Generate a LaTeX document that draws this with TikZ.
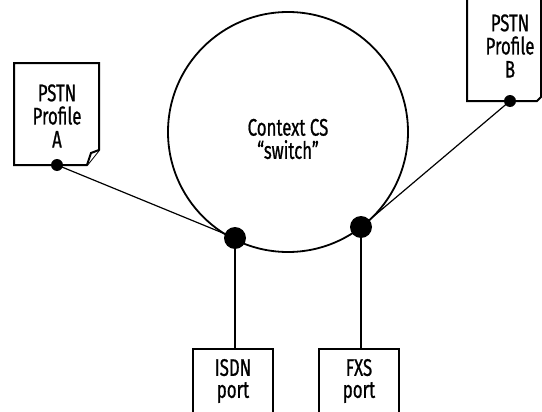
\documentclass[tikz,border=0pt]{standalone}
\usepackage{fontspec}
\setmainfont{Fira Sans}[FakeStretch=0.7, FakeBold=0.8]
\usepackage{tikz}
\usetikzlibrary{positioning, calc}
\definecolor{inkline}{HTML}{000000}
\definecolor{pagefill}{HTML}{FFFFFF}
\tikzset{
  pageline/.style = {draw=inkline, line width=1pt, fill=pagefill, line join=miter},
  lbl/.style      = {align=center, font=\fontsize{12}{11.6}\selectfont, inner sep=0pt},
  portbox/.style  = {rectangle, draw=inkline, line width=1pt, fill=pagefill,
                     minimum width=40pt, minimum height=32pt, align=center,
                     font=\fontsize{12}{11}\selectfont, inner sep=0pt},
  switchring/.style={circle, draw=inkline, line width=0.9pt, minimum size=120pt,
                     inner sep=0pt},
  joint/.style    = {circle, fill=inkline, inner sep=0pt, minimum size=11pt},
  smalljoint/.style={circle, fill=inkline, inner sep=0pt, minimum size=6pt},
  wire/.style     = {draw=inkline, line width=0.6pt},
  stub/.style     = {draw=inkline, line width=0.9pt},
}
\begin{document}
\begin{tikzpicture}[x=0.5pt, y=-0.5pt]
  \useasboundingbox (0,0) rectangle (542,412);
  \clip (0,0) rectangle (542,412);

  % switch
  \node[switchring] (cs) at (288,132) {};
  \node[lbl] (cslbl) at (288,139) {Context CS\\``switch''};

  % profile pages
  \draw[pageline] (14,63) -- (99,63) -- (99,150) -- (87,165) -- (14,165) -- cycle;
  \draw[pageline] (87,165) -- (91,153) -- (99,150);
  \node[lbl] (pagea) at (57,116) {PSTN\\Profile\\A};
  \draw[pageline] (467,-20) -- (467,101) -- (537,101) -- (541,97) -- (541,-20);
  \node[lbl] (pageb) at (510,46) {PSTN\\Profile\\B};

  % ports
  \node[portbox] (isdn) at (233,381) {ISDN\\port};
  \node[portbox] (fxs) at (359,381) {FXS\\port};

  % joints
  \node[joint] (ja) at (235,238) {};
  \node[joint] (jb) at (361,227) {};
  \node[smalljoint] (pa) at (57,165) {};
  \node[smalljoint] (pb) at (510,101) {};

  \draw[wire] (pa.center) -- (ja.center);
  \draw[wire] (pb.center) -- (jb.center);
  \draw[stub] (ja.center) -- (ja.center |- isdn.north);
  \draw[stub] (jb.center) -- (jb.center |- fxs.north);
\end{tikzpicture}
\end{document}
